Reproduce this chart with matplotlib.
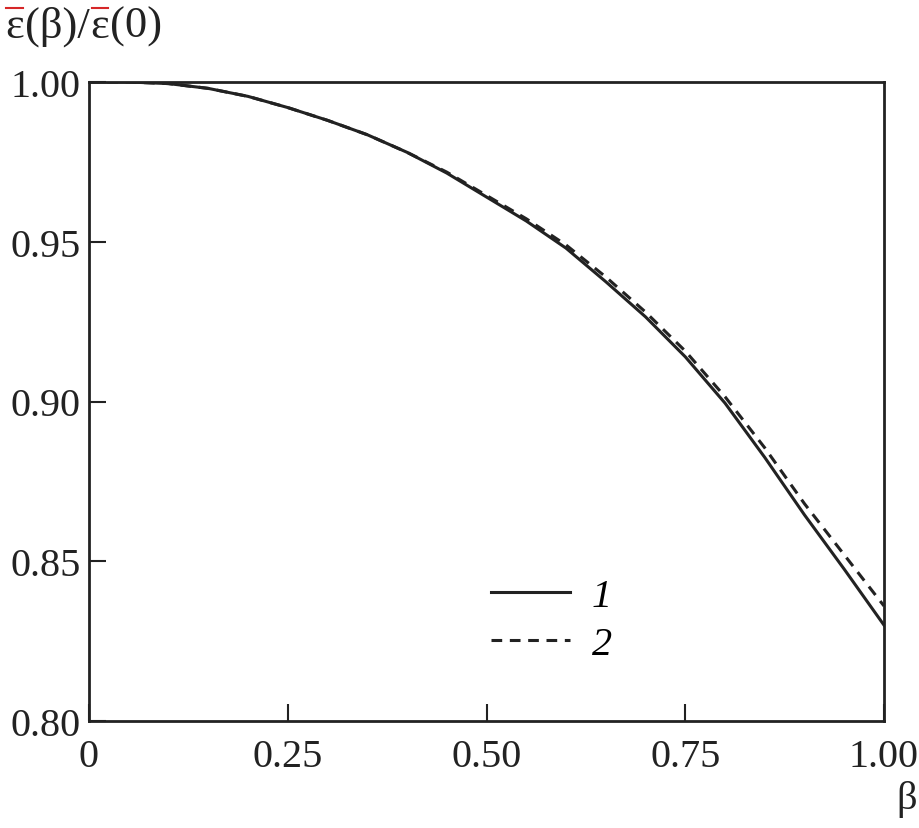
import matplotlib.pyplot as plt

plt.rcParams['font.family'] = ['Liberation Serif', 'DejaVu Serif']

# Data
beta = [0.0, 0.05, 0.1, 0.15, 0.2, 0.25, 0.3, 0.35, 0.4, 0.45, 0.5, 0.55,
        0.6, 0.65, 0.7, 0.75, 0.8, 0.85, 0.9, 0.95, 1.0]
curve1 = [1.000, 1.000, 0.9995, 0.998, 0.9955, 0.992, 0.988, 0.9835, 0.978,
          0.9715, 0.964, 0.9565, 0.948, 0.9375, 0.9265, 0.914, 0.8995,
          0.8825, 0.8645, 0.8475, 0.830]
curve2 = [1.000, 1.000, 0.9995, 0.998, 0.9955, 0.992, 0.988, 0.9835, 0.978,
          0.9718, 0.9645, 0.9572, 0.949, 0.9390, 0.928, 0.9158, 0.9015,
          0.8855, 0.868, 0.852, 0.836]

xticks = [0, 0.25, 0.50, 0.75, 1.00]
xticklabels = ['0', '0.25', '0.50', '0.75', '1.00']
yticks = [0.80, 0.85, 0.90, 0.95, 1.00]
yticklabels = ['0.80', '0.85', '0.90', '0.95', '1.00']
ylabel_parts = ['ε', '(β)/', 'ε', '(0)']

fig = plt.figure(figsize=(9.19, 8.29), dpi=100)
ax = fig.add_axes([89 / 919, 1 - 722 / 829, (884 - 89) / 919, (722 - 83) / 829])

ax.plot(beta, curve1, color='#222222', lw=2.2, ls='-', label='1')
ax.plot(beta, curve2, color='#222222', lw=2.2, ls=(0, (3.5, 2.5)), label='2')

ax.set_xlim(0, 1)
ax.set_ylim(0.80, 1.00)
ax.set_xticks(xticks)
ax.set_xticklabels(xticklabels)
ax.set_yticks(yticks)
ax.set_yticklabels(yticklabels)
ax.tick_params(direction='in', length=12, width=1.5, labelsize=29, colors='#222222',
               top=False, right=False)
ax.tick_params(axis='x', pad=12)
ax.tick_params(axis='y', pad=6)
for s in ax.spines.values():
    s.set_linewidth(2)
    s.set_color('#222222')

# y label built piece by piece so the red bars sit over each epsilon
fig.canvas.draw()
r = fig.canvas.get_renderer()
x = 5
for part in ylabel_parts:
    t = fig.text(x / 919, 1 - 27 / 829, part, fontsize=32, color='#222222',
                 ha='left', va='center')
    bb = t.get_window_extent(r)
    if part == 'ε':
        fig.lines.append(plt.Line2D([(bb.x0 + 1) / 919, (bb.x1 - 1) / 919],
                                    [1 - 9 / 829, 1 - 9 / 829],
                                    transform=fig.transFigure, color='#d62728', lw=1.5))
    x = bb.x1 + 1

fig.text(907 / 919, 1 - 800 / 829, 'β', fontsize=29, color='#222222',
         ha='center', va='center')

leg = ax.legend(loc='center left', bbox_to_anchor=(0.506, 0.158), frameon=False,
                handlelength=1.95, handletextpad=0.55, labelspacing=0.27,
                borderpad=0, borderaxespad=0,
                prop={'style': 'italic', 'size': 29})

fig.savefig('out.png', dpi=100)
